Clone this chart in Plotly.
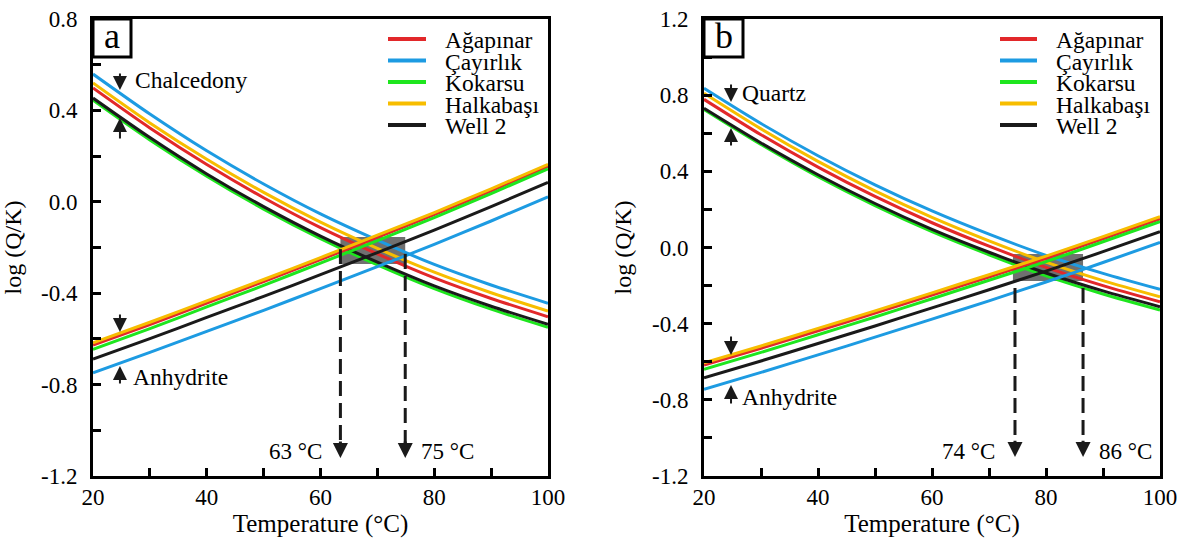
import plotly.graph_objects as go

# ---------------- data ----------------
temps = [20, 30, 40, 50, 60, 70, 80, 90, 100]

series_names = ["Ağapınar", "Çayırlık", "Kokarsu", "Halkabaşı", "Well 2"]
series_colors = ["#e2282a", "#1d9be2", "#1ee61e", "#f7bd00", "#1a1a1a"]

# panel a: chalcedony saturation index, log(Q/K)
a_chal_agapinar = [0.498, 0.323, 0.163, 0.018, -0.113, -0.228, -0.333, -0.423, -0.503]
a_chal_cayirlik = [0.559, 0.384, 0.223, 0.078, -0.053, -0.168, -0.274, -0.364, -0.444]
a_chal_kokarsu = [0.445, 0.271, 0.112, -0.032, -0.161, -0.276, -0.380, -0.470, -0.549]
a_chal_halkabasi = [0.520, 0.345, 0.186, 0.041, -0.089, -0.204, -0.308, -0.398, -0.478]
a_chal_well2 = [0.454, 0.281, 0.122, -0.021, -0.150, -0.264, -0.368, -0.457, -0.536]

# panel a: anhydrite saturation index
a_anh_agapinar = [-0.627, -0.537, -0.443, -0.349, -0.253, -0.156, -0.056, 0.048, 0.155]
a_anh_cayirlik = [-0.748, -0.659, -0.567, -0.475, -0.380, -0.284, -0.186, -0.084, 0.022]
a_anh_kokarsu = [-0.646, -0.555, -0.460, -0.366, -0.268, -0.170, -0.069, 0.036, 0.144]
a_anh_halkabasi = [-0.617, -0.527, -0.434, -0.340, -0.244, -0.146, -0.047, 0.057, 0.164]
a_anh_well2 = [-0.688, -0.599, -0.506, -0.414, -0.319, -0.222, -0.124, -0.021, 0.085]

# panel b: quartz saturation index
b_qtz_agapinar = [0.778, 0.592, 0.422, 0.268, 0.130, 0.007, -0.104, -0.200, -0.285]
b_qtz_cayirlik = [0.836, 0.651, 0.482, 0.329, 0.192, 0.070, -0.041, -0.136, -0.220]
b_qtz_kokarsu = [0.725, 0.541, 0.372, 0.220, 0.083, -0.038, -0.149, -0.244, -0.328]
b_qtz_halkabasi = [0.810, 0.623, 0.452, 0.297, 0.158, 0.035, -0.077, -0.174, -0.259]
b_qtz_well2 = [0.731, 0.549, 0.382, 0.231, 0.095, -0.025, -0.134, -0.228, -0.311]

# panel b: anhydrite saturation index
b_anh_agapinar = [-0.617, -0.529, -0.437, -0.345, -0.250, -0.155, -0.057, 0.045, 0.150]
b_anh_cayirlik = [-0.745, -0.656, -0.564, -0.471, -0.376, -0.280, -0.181, -0.079, 0.027]
b_anh_kokarsu = [-0.640, -0.551, -0.458, -0.365, -0.269, -0.172, -0.074, 0.030, 0.136]
b_anh_halkabasi = [-0.605, -0.517, -0.425, -0.333, -0.238, -0.143, -0.045, 0.057, 0.162]
b_anh_well2 = [-0.684, -0.596, -0.504, -0.412, -0.317, -0.222, -0.124, -0.022, 0.083]

# equilibrium temperature ranges (°C) and log(Q/K) extent of the shaded boxes
a_range_t = [63.5, 74.9]
a_range_si = [-0.272, -0.154]
b_range_t = [74.2, 86.5]
b_range_si = [-0.176, -0.034]
a_range_labels = ["63 °C", "75 °C"]
b_range_labels = ["74 °C", "86 °C"]

x_tickvals = [20, 40, 60, 80, 100]
x_minor = [30, 50, 70, 90]
a_y_tickvals = [-1.2, -0.8, -0.4, 0.0, 0.4, 0.8]
a_y_ticktext = ["-1.2", "-0.8", "-0.4", "0.0", "0.4", "0.8"]
a_y_minor = [-1.0, -0.6, -0.2, 0.2, 0.6]
b_y_tickvals = [-1.2, -0.8, -0.4, 0.0, 0.4, 0.8, 1.2]
b_y_ticktext = ["-1.2", "-0.8", "-0.4", "0.0", "0.4", "0.8", "1.2"]
b_y_minor = [-1.0, -0.6, -0.2, 0.2, 0.6, 1.0]

# ---------------- figure ----------------
W, H = 1187, 541
FONT = "Liberation Serif, Times New Roman, serif"
fig = go.Figure()

a_chal = [a_chal_agapinar, a_chal_cayirlik, a_chal_kokarsu, a_chal_halkabasi, a_chal_well2]
a_anh = [a_anh_agapinar, a_anh_cayirlik, a_anh_kokarsu, a_anh_halkabasi, a_anh_well2]
b_qtz = [b_qtz_agapinar, b_qtz_cayirlik, b_qtz_kokarsu, b_qtz_halkabasi, b_qtz_well2]
b_anh = [b_anh_agapinar, b_anh_cayirlik, b_anh_kokarsu, b_anh_halkabasi, b_anh_well2]

for xa, ya, groups in [("x", "y", (a_chal, a_anh)), ("x2", "y2", (b_qtz, b_anh))]:
    for grp in groups:
        for name, color, vals in zip(series_names, series_colors, grp):
            fig.add_trace(go.Scatter(
                x=temps, y=vals, mode="lines", name=name,
                line=dict(color=color, width=3, shape="spline", smoothing=0.8),
                xaxis=xa, yaxis=ya, showlegend=False, hoverinfo="skip"))

# panel geometry (pixels)
a_left, a_right = 93, 548
b_left, b_right = 704, 1160
top_px, bot_px = 19, 476

def px2x(p):
    return p / W

def px2y(p):
    return 1 - p / H

axis_common = dict(showline=True, linewidth=3, linecolor="black", mirror=True,
                   ticks="inside", ticklen=8, tickwidth=3, tickcolor="black",
                   showgrid=False, zeroline=False, automargin=False,
                   tickfont=dict(family=FONT, size=23, color="black"))
minor_common = dict(ticks="inside", ticklen=8, tickwidth=3, tickcolor="black", showgrid=False)

fig.update_layout(
    width=W, height=H, margin=dict(l=0, r=0, t=0, b=0, pad=0, autoexpand=False),
    paper_bgcolor="white", plot_bgcolor="white",
    font=dict(family=FONT, size=23, color="black"),
    showlegend=False,
    xaxis=dict(domain=[px2x(a_left), px2x(a_right)], range=[20, 100], anchor="y",
               tickvals=x_tickvals, minor=dict(tickvals=x_minor, **minor_common),
               title=dict(text="Temperature (°C)", font=dict(family=FONT, size=25), standoff=4),
               ticklabelstandoff=-2, **axis_common),
    yaxis=dict(domain=[px2y(bot_px), px2y(top_px)], range=[-1.2, 0.8], anchor="x",
               tickvals=a_y_tickvals, ticktext=a_y_ticktext,
               minor=dict(tickvals=a_y_minor, **minor_common),
               title=dict(text="log (Q/K)", font=dict(family=FONT, size=24), standoff=14),
               ticklabelstandoff=8, **axis_common),
    xaxis2=dict(domain=[px2x(b_left), px2x(b_right)], range=[20, 100], anchor="y2",
                tickvals=x_tickvals, minor=dict(tickvals=x_minor, **minor_common),
                title=dict(text="Temperature (°C)", font=dict(family=FONT, size=25), standoff=4),
                ticklabelstandoff=-2, **axis_common),
    yaxis2=dict(domain=[px2y(bot_px), px2y(top_px)], range=[-1.2, 1.2], anchor="x2",
                tickvals=b_y_tickvals, ticktext=b_y_ticktext,
                minor=dict(tickvals=b_y_minor, **minor_common),
                title=dict(text="log (Q/K)", font=dict(family=FONT, size=24), standoff=14),
                ticklabelstandoff=8, **axis_common),
)

shapes = []
annotations = []

# panel label boxes
for xref, yref, letter, w_frac, h_frac in [("x domain", "y domain", "a", 38 / (a_right - a_left), 38 / (bot_px - top_px)),
                                           ("x2 domain", "y2 domain", "b", 39 / (b_right - b_left), 38 / (bot_px - top_px))]:
    shapes.append(dict(type="rect", xref=xref, yref=yref, x0=0, x1=w_frac, y0=1 - h_frac, y1=1,
                       line=dict(color="black", width=3), fillcolor="white", layer="above"))
    annotations.append(dict(xref=xref, yref=yref, x=w_frac / 2, y=1 - h_frac / 2 + 0.004, text=letter,
                            showarrow=False, xanchor="center", yanchor="middle",
                            font=dict(family=FONT, size=36, color="black")))

# shaded equilibrium boxes
for xr, yr, tr, sr in [("x", "y", a_range_t, a_range_si), ("x2", "y2", b_range_t, b_range_si)]:
    shapes.append(dict(type="rect", xref=xr, yref=yr, x0=tr[0], x1=tr[1], y0=sr[0], y1=sr[1],
                       fillcolor="rgb(112,112,112)", line=dict(width=0), layer="below"))

# dashed arrows down to the temperature axis
dash_specs = [
    ("x", "y", a_range_t[0], -0.207, -1.062, -1.121),
    ("x", "y", a_range_t[1], -0.228, -1.062, -1.121),
    ("x2", "y2", 74.56, -0.213, -1.027, -1.100),
    ("x2", "y2", 86.5, -0.213, -1.027, -1.100),
]
for xr, yr, xv, y_start, y_end, y_tip in dash_specs:
    shapes.append(dict(type="line", xref=xr, yref=yr, x0=xv, x1=xv, y0=y_start, y1=y_end,
                       line=dict(color="#1a1a1a", width=3, dash="15px,7px")))
    annotations.append(dict(xref=xr, yref=yr, axref=xr, ayref=yr, x=xv, y=y_tip, ax=xv, ay=y_end + 0.02,
                            text="", showarrow=True, arrowhead=2, arrowsize=1, arrowwidth=3,
                            arrowcolor="#1a1a1a"))

# range temperature labels
for xr, yr, tr, labels, yv in [("x", "y", a_range_t, a_range_labels, -1.094), ("x2", "y2", b_range_t, b_range_labels, -1.073)]:
    annotations.append(dict(xref=xr, yref=yr, x=tr[0], y=yv, text=labels[0], showarrow=False,
                            xanchor="right", yanchor="middle", xshift=-16,
                            font=dict(family=FONT, size=23, color="black")))
    annotations.append(dict(xref=xr, yref=yr, x=tr[1], y=yv, text=labels[1], showarrow=False,
                            xanchor="left", yanchor="middle", xshift=14,
                            font=dict(family=FONT, size=23, color="black")))

# mineral labels with small arrows
mineral_specs = [
    ("x", "y", "Chalcedony", 27.0, 0.533, (0.568, 0.489), (0.270, 0.367)),
    ("x", "y", "Anhydrite", 26.6, -0.767, (-0.487, -0.570), (-0.802, -0.719)),
    ("x2", "y2", "Quartz", 26.4, 0.811, (0.864, 0.764), (0.528, 0.628)),
    ("x2", "y2", "Anhydrite", 26.4, -0.785, (-0.460, -0.565), (-0.827, -0.722)),
]
for xr, yr, text, tx, ty, down, up in mineral_specs:
    annotations.append(dict(xref=xr, yref=yr, x=tx, y=ty, text=text, showarrow=False,
                            xanchor="left", yanchor="middle",
                            font=dict(family=FONT, size=23.5, color="black")))
    for tail, tip in (down, up):
        annotations.append(dict(xref=xr, yref=yr, axref=xr, ayref=yr, x=24.74, y=tip, ax=24.74, ay=tail,
                                text="", showarrow=True, arrowhead=2, arrowsize=1.4, arrowwidth=2,
                                arrowcolor="#1a1a1a"))

# legends (one per panel)
row_px = [39, 60.5, 82, 103.5, 125]
for line_x0, line_x1, text_x in [(388, 426, 443), (1000, 1037, 1054)]:
    for name, color, ry in zip(series_names, series_colors, row_px):
        shapes.append(dict(type="line", xref="paper", yref="paper",
                           x0=px2x(line_x0), x1=px2x(line_x1), y0=px2y(ry), y1=px2y(ry),
                           line=dict(color=color, width=4)))
        annotations.append(dict(xref="paper", yref="paper", x=px2x(text_x), y=px2y(ry + 1),
                                text=name, showarrow=False, xanchor="left", yanchor="middle",
                                font=dict(family=FONT, size=23.5, color="black")))

fig.update_layout(shapes=shapes, annotations=annotations)
fig.write_html("out.html")
